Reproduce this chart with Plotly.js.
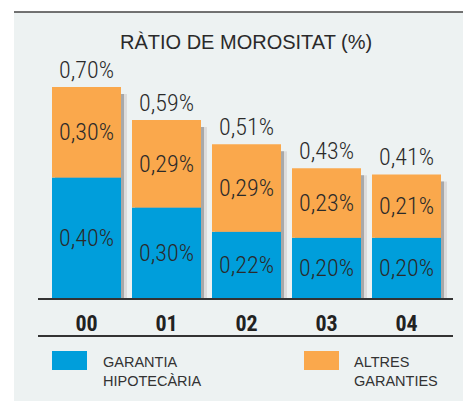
<!DOCTYPE html>
<html><head><meta charset="utf-8">
<script src="https://cdn.plot.ly/plotly-3.0.1.min.js"></script>
<style>html,body{margin:0;padding:0;background:#fff}#chart{width:463px;height:402px}</style>
</head><body><div id="chart"></div>
<script>
const years = ['00','01','02','03','04'];
const hipotecaria = [0.40, 0.30, 0.22, 0.20, 0.20];
const altres = [0.30, 0.29, 0.29, 0.23, 0.21];
const totals = [0.70, 0.59, 0.51, 0.43, 0.41];

const fmt = v => v.toFixed(2).replace('.', ',') + '%';
const NARROW = '"Roboto Condensed", Roboto, sans-serif';
const SANS = '"Liberation Sans", Arial, sans-serif';
const BLUE = '#009edb', ORANGE = '#faa84c';

// layout geometry (pixels)
const L = 38, R = 453, T = 60, B = 298;
const pxPerUnit = 301.5, catPx = 80;
const yMax = (B - T) / pxPerUnit;
const xr = [-(48.5 / catPx), -(48.5 / catPx) + (R - L) / catPx];
const bw = 69 / catPx;
const drop = 7 / pxPerUnit;
const px = x => (x - L) / (R - L);
const py = y => (B - y) / (B - T);

const lblFont = {family: NARROW, size: 24, color:'#2a2a2a', weight: 300};

const traces = [
  {type:'bar', x: years, y: totals, base: totals.map(() => -drop), width: bw, offset: -bw/2 + 6/catPx,
   marker:{color:'#dcdcdc'}, hoverinfo:'skip', showlegend:false},
  {type:'bar', x: years, y: totals, base: totals.map(() => -drop), width: bw, offset: -bw/2 + 3/catPx,
   marker:{color:'#a8a8a8'}, hoverinfo:'skip', showlegend:false},
  {type:'bar', name:'GARANTIA HIPOTECÀRIA', x: years, y: hipotecaria, base: hipotecaria.map(() => 0),
   width: bw, offset: -bw/2, marker:{color: BLUE}, text: hipotecaria.map(fmt), textposition:'inside',
   insidetextanchor:'middle', textangle:0, constraintext:'none',
   insidetextfont: lblFont, showlegend:false},
  {type:'bar', name:'ALTRES GARANTIES', x: years, y: altres, base: hipotecaria,
   width: bw, offset: -bw/2, marker:{color: ORANGE}, text: altres.map(fmt), textposition:'inside',
   insidetextanchor:'middle', textangle:0, constraintext:'none',
   insidetextfont: lblFont, showlegend:false}
];

const annotations = years.map((c, i) => ({
  x: c, y: totals[i], xref:'x', yref:'y', text: fmt(totals[i]), showarrow:false,
  yanchor:'bottom', yshift: 1, font: lblFont
}));
annotations.push({xref:'paper', yref:'paper', x: px(245.5), y: py(42), text:'RÀTIO DE MOROSITAT (%)',
  showarrow:false, xanchor:'center', yanchor:'middle', font:{family: SANS, size: 20, color:'#2a2a2a'}});
annotations.push({xref:'paper', yref:'paper', x: px(101), y: py(352), text:'GARANTIA<br>HIPOTECÀRIA',
  showarrow:false, xanchor:'left', yanchor:'top', align:'left', font:{family: SANS, size: 14.5, color:'#333'}});
annotations.push({xref:'paper', yref:'paper', x: px(352), y: py(352), text:'ALTRES<br>GARANTIES',
  showarrow:false, xanchor:'left', yanchor:'top', align:'left', font:{family: SANS, size: 14.5, color:'#333'}});

const shapes = [
  {type:'rect', xref:'paper', yref:'paper', x0: px(14), x1: px(470), y0: py(12), y1: py(401),
   fillcolor:'#edf2f2', line:{width:0}, layer:'below'},
  {type:'line', xref:'paper', yref:'paper', x0: px(14), x1: px(470), y0: py(12), y1: py(12),
   line:{color:'#444', width:1.5}},
  {type:'line', xref:'paper', yref:'paper', x0: px(38), x1: px(453), y0: py(336), y1: py(336),
   line:{color:'#333', width:2}},
  {type:'rect', xref:'paper', yref:'paper', x0: px(52), x1: px(87), y0: py(351), y1: py(370),
   fillcolor: BLUE, line:{width:0}},
  {type:'rect', xref:'paper', yref:'paper', x0: px(304), x1: px(339), y0: py(351), y1: py(370),
   fillcolor: ORANGE, line:{width:0}}
];

const layout = {
  width: 463, height: 402,
  margin:{l: L, r: 463 - R, t: T, b: 402 - B, pad: 0},
  paper_bgcolor:'#ffffff', plot_bgcolor:'rgba(0,0,0,0)',
  barmode:'overlay', showlegend:false,
  xaxis:{type:'category', range: xr, showgrid:false, zeroline:false, showline:true,
    linecolor:'#333', linewidth:2, ticks:'outside', ticklen:5, tickcolor:'rgba(0,0,0,0)',
    tickfont:{family: NARROW, size: 22, color:'#222', weight:'bold'}, fixedrange:true},
  yaxis:{range:[0, yMax], visible:false, fixedrange:true},
  annotations, shapes
};

Plotly.newPlot('chart', traces, layout, {displayModeBar:false, staticPlot:true});
</script></body></html>
